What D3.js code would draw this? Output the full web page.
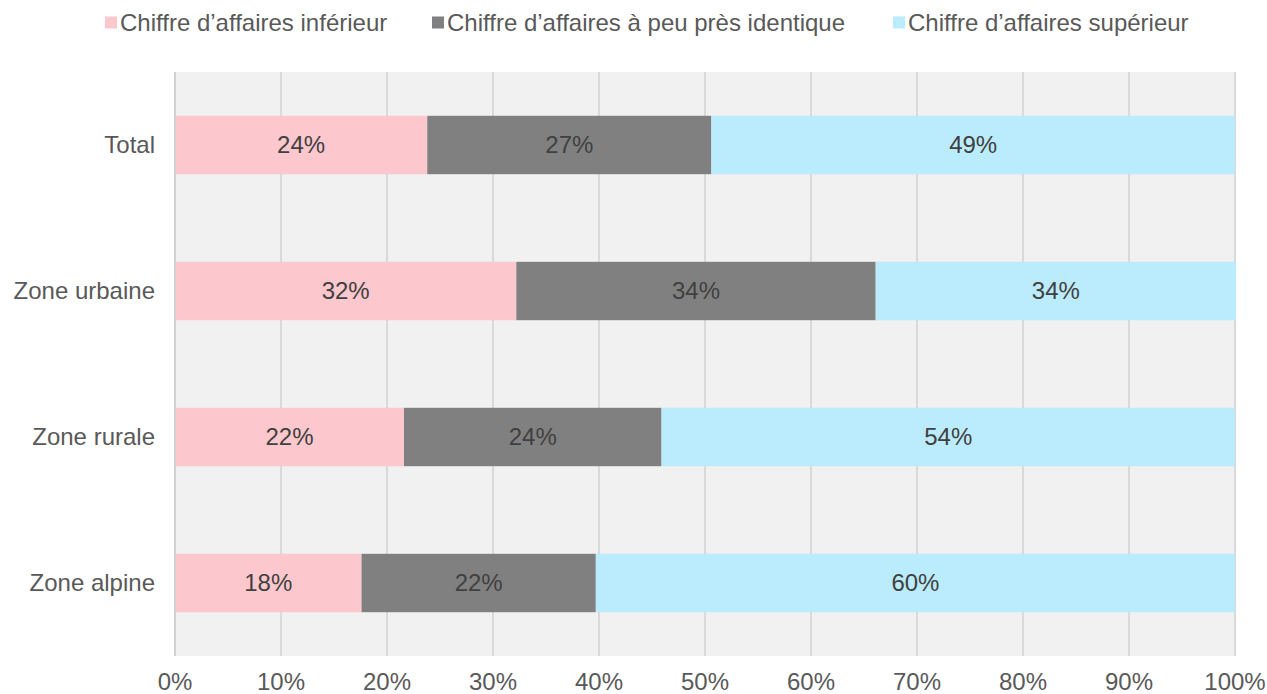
<!DOCTYPE html>
<meta charset="utf-8">
<html>
<head>
<script src="https://d3js.org/d3.v7.min.js"></script>
<style>
  body { margin: 0; background: #fff; }
  text { font-family: "Liberation Sans", Arial, sans-serif; }
</style>
</head>
<body>
<script>
// categories and series (percent)
var categories = ["Total", "Zone urbaine", "Zone rurale", "Zone alpine"];
var seriesNames = ["Chiffre d\u2019affaires inférieur", "Chiffre d\u2019affaires à peu près identique", "Chiffre d\u2019affaires supérieur"];
var inferieur = [23.8, 32.2, 21.6, 17.6];
var identique = [26.8, 33.9, 24.3, 22.1];
var superieur = [49.4, 34.0, 54.1, 60.3];
var labelsInf = ["24%", "32%", "22%", "18%"];
var labelsIde = ["27%", "34%", "24%", "22%"];
var labelsSup = ["49%", "34%", "54%", "60%"];
var xTicks = [0, 10, 20, 30, 40, 50, 60, 70, 80, 90, 100];

var colors = ["#fdc8cd", "#808080", "#bbecfd"];

var width = 1267, height = 694;
var margin = { top: 72, right: 32, bottom: 38, left: 175 };
var fontSize = "24px";

var svg = d3.select("body").append("svg")
    .attr("width", width)
    .attr("height", height);

var x = d3.scaleLinear().domain([0, 100]).range([margin.left, width - margin.right]);
var y = d3.scaleBand().domain(categories).range([margin.top, height - margin.bottom]).paddingInner(0.6).paddingOuter(0.3);

// plot background
svg.append("rect")
    .attr("x", x(0)).attr("y", margin.top)
    .attr("width", x(100) - x(0)).attr("height", height - margin.bottom - margin.top)
    .attr("fill", "#f1f1f1");

// gridlines
svg.append("g").selectAll("line")
    .data(xTicks)
    .enter().append("line")
    .attr("x1", function (d) { return x(d); })
    .attr("x2", function (d) { return x(d); })
    .attr("y1", margin.top)
    .attr("y2", height - margin.bottom)
    .attr("stroke", "#d9d9d9")
    .attr("stroke-width", 2);

// stack the data
var rows = categories.map(function (c, i) {
    return { cat: c, a: inferieur[i], b: identique[i], c: superieur[i] };
});
var stack = d3.stack().keys(["a", "b", "c"])(rows);
var labelSets = [labelsInf, labelsIde, labelsSup];

var layers = svg.selectAll("g.layer")
    .data(stack)
    .enter().append("g")
    .attr("class", "layer")
    .attr("fill", function (d, i) { return colors[i]; });

layers.selectAll("rect")
    .data(function (d) { return d; })
    .enter().append("rect")
    .attr("x", function (d) { return x(d[0]); })
    .attr("y", function (d) { return y(d.data.cat); })
    .attr("width", function (d) { return x(d[1]) - x(d[0]); })
    .attr("height", y.bandwidth());

layers.each(function (layer, li) {
    d3.select(this).selectAll("text")
        .data(layer)
        .enter().append("text")
        .attr("x", function (d) { return (x(d[0]) + x(d[1])) / 2; })
        .attr("y", function (d) { return y(d.data.cat) + y.bandwidth() / 2; })
        .attr("dy", "0.35em")
        .attr("text-anchor", "middle")
        .attr("fill", "#404040")
        .style("font-size", fontSize)
        .text(function (d, i) { return labelSets[li][i]; });
});

// left axis line
svg.append("line")
    .attr("x1", x(0)).attr("x2", x(0))
    .attr("y1", margin.top).attr("y2", height - margin.bottom)
    .attr("stroke", "#d0d0d0").attr("stroke-width", 2);

// category labels
svg.append("g").selectAll("text")
    .data(categories)
    .enter().append("text")
    .attr("x", x(0) - 20)
    .attr("y", function (d) { return y(d) + y.bandwidth() / 2; })
    .attr("dy", "0.35em")
    .attr("text-anchor", "end")
    .attr("fill", "#595959")
    .style("font-size", fontSize)
    .text(function (d) { return d; });

// x tick labels
svg.append("g").selectAll("text")
    .data(xTicks)
    .enter().append("text")
    .attr("x", function (d) { return x(d); })
    .attr("y", height - margin.bottom + 34)
    .attr("text-anchor", "middle")
    .attr("fill", "#595959")
    .style("font-size", fontSize)
    .text(function (d) { return d + "%"; });

// legend
var legendX = [105, 432, 893];
var legend = svg.append("g").selectAll("g")
    .data(seriesNames)
    .enter().append("g")
    .attr("transform", function (d, i) { return "translate(" + legendX[i] + ",22.5)"; });
legend.append("rect")
    .attr("x", 0).attr("y", -6)
    .attr("width", 12).attr("height", 12)
    .attr("fill", function (d, i) { return colors[i]; });
legend.append("text")
    .attr("x", 15)
    .attr("dy", "0.35em")
    .attr("fill", "#595959")
    .style("font-size", fontSize)
    .text(function (d) { return d; });
</script>
</body>
</html>
